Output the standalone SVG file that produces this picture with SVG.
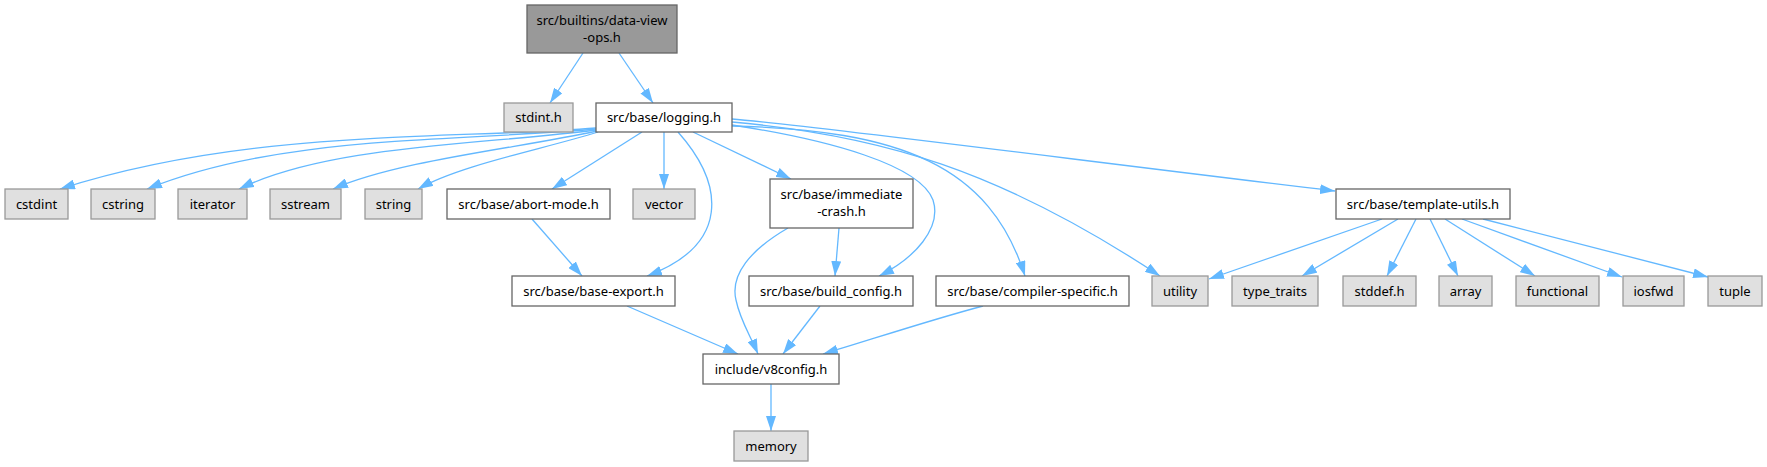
<svg xmlns="http://www.w3.org/2000/svg" width="1767" height="467" viewBox="0 0 1767 467">
<style>
.n rect{stroke-width:1.3}
.w rect{fill:#ffffff;stroke:#666666}
.g rect{fill:#e0e0e0;stroke:#999999}
.m rect{fill:#999999;stroke:#666666}
text{font-family:"Noto Sans","DejaVu Sans",sans-serif;font-size:13px;fill:#000000;text-anchor:middle}
.e path{fill:none;stroke:#63b8ff;stroke-width:1.3;marker-end:url(#ah)}
</style>
<defs>
<marker id="ah" markerUnits="userSpaceOnUse" markerWidth="15" markerHeight="10" refX="15" refY="5" orient="auto">
<path d="M0,0 L15,5 L0,10 z" fill="#63b8ff"/>
</marker>
</defs>
<rect width="1767" height="467" fill="#ffffff"/>
<g id="edges" class="e">
<path d="M583,53 L550,103"/>
<path d="M619,53 L653,103"/>
<path d="M596,128 C 450,140 250,128 60,189"/>
<path d="M596,129 C 450,142 280,135 147,189"/>
<path d="M596,130 C 480,145 330,145 239,189"/>
<path d="M597,131 C 520,148 400,160 333,189"/>
<path d="M598,132 C 540,150 460,165 418,189"/>
<path d="M642,132 L552,189"/>
<path d="M664,132 L664,189"/>
<path d="M678,132 C 725,185 730,245 647,276"/>
<path d="M693,132 L791,179"/>
<path d="M732,125 C 830,140 920,165 933,200 C 942,228 915,258 879,276"/>
<path d="M732,126 C 900,130 990,165 1025,276"/>
<path d="M732,122 C 880,135 1000,170 1160,276"/>
<path d="M732,119 C 800,124 1100,163 1335,191"/>
<path d="M532,219 L582,276"/>
<path d="M839,228 L835,276"/>
<path d="M788,228 C 750,250 730,275 736,300 C 740,320 750,335 758,354"/>
<path d="M820,306 L783,354"/>
<path d="M627,306 L738,354"/>
<path d="M983,306 C 930,320 870,340 823,354"/>
<path d="M771,384 L771,431"/>
<path d="M1382,219 L1209,279"/>
<path d="M1398,219 L1302,276"/>
<path d="M1416,219 L1387,276"/>
<path d="M1430,219 L1458,276"/>
<path d="M1445,219 L1535,276"/>
<path d="M1462,219 L1622,277"/>
<path d="M1483,219 L1708,277"/>
</g>
<g id="n_main" class="n m"><rect x="527" y="5" width="150" height="48"/><text x="602" y="24.5">src/builtins/data-view</text><text x="602" y="41.5">-ops.h</text></g>
<g id="n_stdint" class="n g"><rect x="504" y="103" width="69" height="29"/><text x="538.5" y="122">stdint.h</text></g>
<g id="n_logging" class="n w"><rect x="596" y="103" width="136" height="29"/><text x="664" y="122">src/base/logging.h</text></g>
<g id="n_cstdint" class="n g"><rect x="5" y="189" width="63" height="30"/><text x="36.5" y="208.5">cstdint</text></g>
<g id="n_cstring" class="n g"><rect x="91" y="189" width="64" height="30"/><text x="123" y="208.5">cstring</text></g>
<g id="n_iterator" class="n g"><rect x="178" y="189" width="69" height="30"/><text x="212.5" y="208.5">iterator</text></g>
<g id="n_sstream" class="n g"><rect x="270" y="189" width="71" height="30"/><text x="305.5" y="208.5">sstream</text></g>
<g id="n_string" class="n g"><rect x="365" y="189" width="57" height="30"/><text x="393.5" y="208.5">string</text></g>
<g id="n_abort" class="n w"><rect x="447" y="189" width="163" height="30"/><text x="528.5" y="208.5">src/base/abort-mode.h</text></g>
<g id="n_vector" class="n g"><rect x="633" y="189" width="62" height="30"/><text x="664" y="208.5">vector</text></g>
<g id="n_immediate" class="n w"><rect x="770" y="179" width="143" height="49"/><text x="841.5" y="198.5">src/base/immediate</text><text x="841.5" y="216">-crash.h</text></g>
<g id="n_template" class="n w"><rect x="1336" y="189" width="174" height="30"/><text x="1423" y="208.5">src/base/template-utils.h</text></g>
<g id="n_baseexport" class="n w"><rect x="512" y="276" width="163" height="30"/><text x="593.5" y="295.5">src/base/base-export.h</text></g>
<g id="n_buildconfig" class="n w"><rect x="749" y="276" width="164" height="30"/><text x="831" y="295.5">src/base/build_config.h</text></g>
<g id="n_compiler" class="n w"><rect x="936" y="276" width="193" height="30"/><text x="1032.5" y="295.5">src/base/compiler-specific.h</text></g>
<g id="n_utility" class="n g"><rect x="1152" y="276" width="56" height="30"/><text x="1180" y="295.5">utility</text></g>
<g id="n_typetraits" class="n g"><rect x="1232" y="276" width="86" height="30"/><text x="1275" y="295.5">type_traits</text></g>
<g id="n_stddef" class="n g"><rect x="1343" y="276" width="73" height="30"/><text x="1379.5" y="295.5">stddef.h</text></g>
<g id="n_array" class="n g"><rect x="1439" y="276" width="53" height="30"/><text x="1465.5" y="295.5">array</text></g>
<g id="n_functional" class="n g"><rect x="1516" y="276" width="83" height="30"/><text x="1557.5" y="295.5">functional</text></g>
<g id="n_iosfwd" class="n g"><rect x="1623" y="276" width="61" height="30"/><text x="1653.5" y="295.5">iosfwd</text></g>
<g id="n_tuple" class="n g"><rect x="1708" y="276" width="54" height="30"/><text x="1735" y="295.5">tuple</text></g>
<g id="n_v8config" class="n w"><rect x="703" y="354" width="136" height="30"/><text x="771" y="373.5">include/v8config.h</text></g>
<g id="n_memory" class="n g"><rect x="734" y="431" width="74" height="30"/><text x="771" y="450.5">memory</text></g>
</svg>
